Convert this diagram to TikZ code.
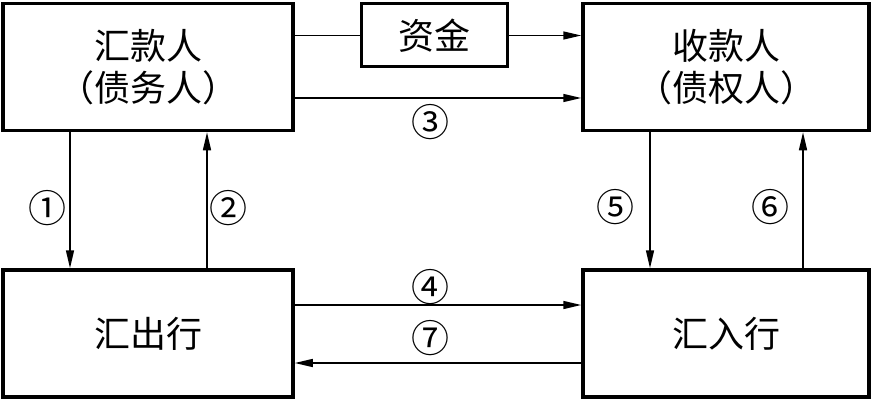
\documentclass[tikz,border=0pt]{standalone}
\usepackage{fontspec}
\newfontfamily\cjk{Noto Sans CJK SC}
\usetikzlibrary{arrows.meta}

\tikzset{
  party/.style={draw, line width=3.5pt, minimum width=290pt, minimum height=127pt,
    inner sep=0pt, align=center, font=\cjk\fontsize{36}{42}\selectfont},
  fundbox/.style={draw, line width=3pt, minimum width=146pt, minimum height=63pt,
    inner sep=0pt, font=\cjk\fontsize{36}{42}\selectfont},
  flow/.style={line width=1.5pt, -{Triangle[length=18pt,width=8pt]}},
  num/.style={font=\cjk\fontsize{38}{38}\selectfont}
}

\begin{document}
\begin{tikzpicture}[x=1pt, y=-1pt]
    % Frame
    \useasboundingbox (0,0) rectangle (874,401);

    % Parties and banks
    \node[party] (payer) at (148,67) {汇款人\\（债务人）};
    \node[party, minimum width=286pt] (payee) at (726,67) {收款人\\（债权人）};
    \node[party] (outbank) at (148,333.5) {汇出行};
    \node[party, minimum width=286pt] (inbank) at (726,333.5) {汇入行};

    % Funds
    \node[fundbox] (fund) at (434,35.5) {资金};
    \draw[line width=1.5pt] (fund.west -| payer.east) -- (fund.west);
    \draw[flow] (fund.east) -- (fund.east -| payee.west);

    % Step 3
    \draw[flow] ([yshift=-31pt]payer.east) -- ([yshift=-31pt]payer.east -| payee.west);
    \node[num] at (430,122) {③};

    % Steps 1 and 2
    \draw[flow] ([xshift=-78pt]payer.south) -- ([xshift=-78pt]payer.south |- outbank.north);
    \draw[flow] ([xshift=59pt]outbank.north) -- ([xshift=59pt]outbank.north |- payer.south);
    \node[num] at (47,208) {①};
    \node[num] at (228,208) {②};

    % Steps 5 and 6
    \draw[flow] ([xshift=-76pt]payee.south) -- ([xshift=-76pt]payee.south |- inbank.north);
    \draw[flow] ([xshift=77pt]inbank.north) -- ([xshift=77pt]inbank.north |- payee.south);
    \node[num] at (615,207) {⑤};
    \node[num] at (770,207) {⑥};

    % Steps 4 and 7
    \draw[flow] ([yshift=28.5pt]outbank.east) -- ([yshift=28.5pt]outbank.east -| inbank.west);
    \draw[flow] ([yshift=-29.5pt]inbank.west) -- ([yshift=-29.5pt]inbank.west -| outbank.east);
    \node[num] at (430,287) {④};
    \node[num] at (430,338) {⑦};
\end{tikzpicture}
\end{document}
